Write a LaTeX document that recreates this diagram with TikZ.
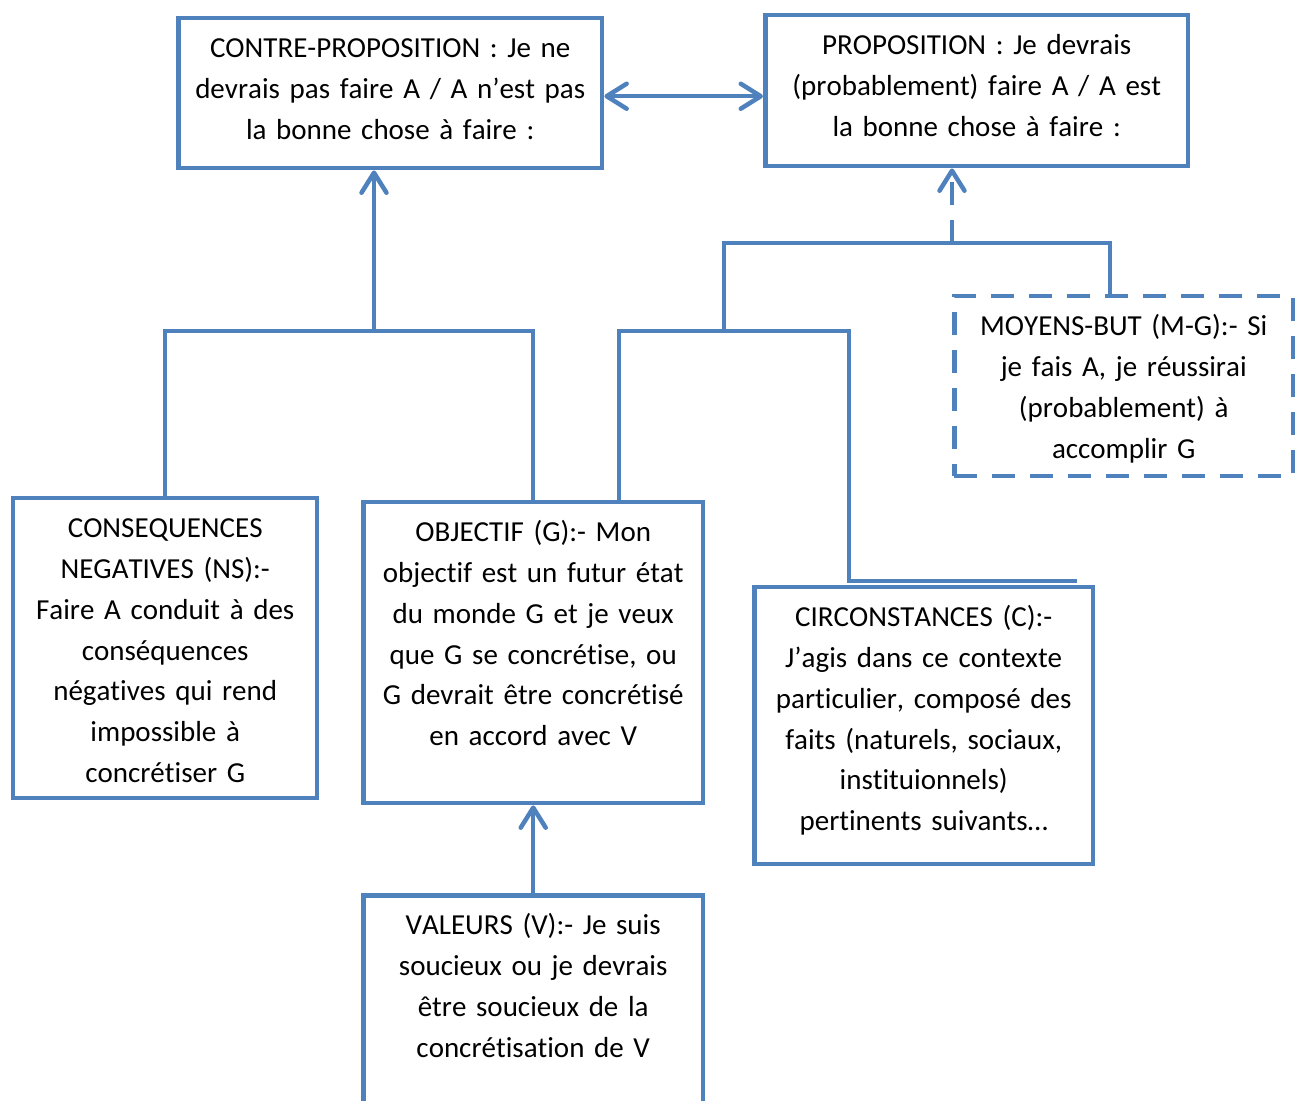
\documentclass[tikz,border=0pt]{standalone}
\usepackage{fontspec}
\setmainfont{Carlito}[Kerning=Off,Ligatures=NoCommon]
\usepackage{tikz}
\usetikzlibrary{arrows.meta}
\definecolor{boxblue}{RGB}{79,129,189}

\begin{document}
\begin{tikzpicture}[
  x=0.02cm,y=-0.02cm,
  box/.style={draw=boxblue,line width=0.09cm,anchor=north west,align=center,inner xsep=0.1cm,inner ysep=0pt,text height=0.78cm,font=\fontsize{16.5pt}{23.3pt}\selectfont},
  dashbox/.style={box,dash pattern=on 0.46cm off 0.3cm},
  link/.style={draw=boxblue,line width=0.09cm},
  arr/.style={link,-{Straight Barb[length=0.4cm,width=0.5cm,round]}},
  arrboth/.style={link,{Straight Barb[length=0.4cm,width=0.5cm,round]}-{Straight Barb[length=0.4cm,width=0.5cm,round]}}
]
\useasboundingbox (0,0) rectangle (1302,1101);

\node[box,text width=8.28cm,text depth=2.22cm] (contre) at (176,16)
  {CONTRE-PROPOSITION : Je ne\\devrais pas faire A / A n’est pas\\la bonne chose à faire :};
\node[box,text width=8.26cm,text depth=2.24cm] (prop) at (763,13)
  {PROPOSITION : Je devrais\\(probablement) faire A / A est\\la bonne chose à faire :};
\node[box,text width=5.88cm,text depth=5.22cm] (ns) at (11,496)
  {CONSEQUENCES\\NEGATIVES (NS):-\\Faire A conduit à des\\conséquences\\négatives qui rend\\impossible à\\concrétiser G};
\node[box,text width=6.60cm,text depth=5.24cm] (obj) at (361,500)
  {OBJECTIF (G):- Mon\\objectif est un futur état\\du monde G et je veux\\que G se concrétise, ou\\G devrait être concrétisé\\en accord avec V};
\node[box,text width=6.60cm,text depth=5.22cm] (val) at (361,893)
  {VALEURS (V):- Je suis\\soucieux ou je devrais\\être soucieux de la\\concrétisation de V};
\node[box,text width=6.58cm,text depth=4.76cm] (circ) at (752,585)
  {CIRCONSTANCES (C):-\\J’agis dans ce contexte\\particulier, composé des\\faits (naturels, sociaux,\\instituionnels)\\pertinents suivants…};
\node[dashbox,text width=6.58cm,text depth=2.82cm] (mg) at (952,294)
  {MOYENS-BUT (M-G):- Si\\je fais A, je réussirai\\(probablement) à\\accomplir G};

\coordinate (jl) at (374,331);
\coordinate (jr) at (724,331);
\coordinate (jt) at (952,243);

\draw[arrboth] ([yshift=-0.06cm]contre.east) -- ([yshift=-0.06cm]contre.east -| prop.west);
\draw[link] (ns.north) |- (jl) -| (obj.north);
\draw[arr] (jl) -- (jl |- contre.south);
\draw[link] ([xshift=1.72cm]obj.north) |- (jr) -| ([xshift=-1.49cm,yshift=0.08cm]circ.north) -- ++(4.56cm,0);
\draw[link] (jr) |- (jt) -| ([xshift=-0.27cm]mg.north);
\draw[arr,dash pattern=on 0.46cm off 0.3cm] (jt) -- (jt |- prop.south);
\draw[arr] (val.north) -- (obj.south);
\end{tikzpicture}
\end{document}
